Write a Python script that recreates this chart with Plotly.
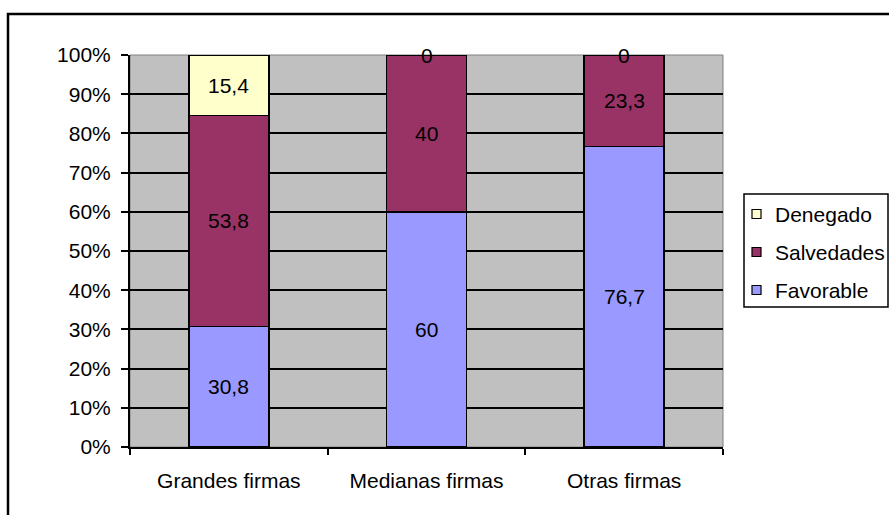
import plotly.graph_objects as go

categories = ["Grandes firmas", "Medianas firmas", "Otras firmas"]
favorable = [30.8, 60, 76.7]
salvedades = [53.8, 40, 23.3]
denegado = [15.4, 0, 0]
series_names = ["Favorable", "Salvedades", "Denegado"]
series_colors = ["#9999FF", "#993366", "#FFFFCC"]
y_ticks = [0, 10, 20, 30, 40, 50, 60, 70, 80, 90, 100]
y_tick_labels = ["0%", "10%", "20%", "30%", "40%", "50%", "60%", "70%", "80%", "90%", "100%"]

FONT = "Liberation Sans, Arial, sans-serif"
FS = 21
W, H = 889, 515
L, R, T, B = 130, 723, 55, 447


def px_x(p):
    return (p - L) / (R - L)


def px_y(p):
    return (B - p) / (B - T)


fig = go.Figure()
series = [favorable, salvedades, denegado]
for name, vals, col in zip(series_names, series, series_colors):
    fig.add_trace(go.Bar(
        x=categories, y=vals, name=name,
        marker=dict(color=col, line=dict(color="black", width=1.5)),
        width=0.405, showlegend=False,
    ))

# data labels
annotations = []
for ci, cat in enumerate(categories):
    base = 0
    for vals in series:
        v = vals[ci]
        label = ("%g" % v).replace(".", ",")
        annotations.append(dict(x=cat, y=base + v / 2, text=label, showarrow=False,
                                xref="x", yref="y",
                                font=dict(size=FS, color="black", family=FONT)))
        base += v

shapes = [
    dict(type="rect", xref="paper", yref="paper", x0=0, x1=1, y0=0, y1=1,
         line=dict(color="#808080", width=1), fillcolor="rgba(0,0,0,0)", layer="below"),
    dict(type="rect", xref="paper", yref="paper", x0=px_x(8), x1=px_x(900), y0=px_y(530), y1=px_y(14),
         line=dict(color="black", width=2.5), fillcolor="rgba(0,0,0,0)"),
    # legend box
    dict(type="rect", xref="paper", yref="paper", x0=px_x(744), x1=px_x(888), y0=px_y(307), y1=px_y(194),
         line=dict(color="black", width=1.5), fillcolor="white"),
]

# legend entries (top to bottom: Denegado, Salvedades, Favorable)
legend_rows = [214, 252, 290]
for row_y, name, col in zip(legend_rows, series_names[::-1], series_colors[::-1]):
    shapes.append(dict(type="rect", xref="paper", yref="paper",
                       x0=px_x(752), x1=px_x(761), y0=px_y(row_y + 4.5), y1=px_y(row_y - 4.5),
                       line=dict(color="black", width=1.2), fillcolor=col))
    annotations.append(dict(x=px_x(773), y=px_y(row_y), xref="paper", yref="paper",
                            text=name, showarrow=False, xanchor="left", yanchor="middle",
                            font=dict(size=FS, color="black", family=FONT)))

fig.update_layout(
    width=W, height=H,
    margin=dict(l=L, r=W - R, t=T, b=H - B),
    paper_bgcolor="white", plot_bgcolor="#C0C0C0",
    barmode="stack", bargap=0.595,
    font=dict(family=FONT, size=FS, color="black"),
    annotations=annotations, shapes=shapes,
    showlegend=False,
    xaxis=dict(showline=True, linecolor="black", linewidth=2, ticks="outside",
               tickson="boundaries", ticklen=6, tickcolor="black", tickwidth=1.5,
               showgrid=False, tickfont=dict(size=FS), ticklabelstandoff=14),
    yaxis=dict(range=[0, 100], tickmode="array", tickvals=y_ticks, ticktext=y_tick_labels,
               showline=True, linecolor="black", linewidth=2, ticks="outside", ticklen=7,
               tickcolor="black", tickwidth=1.5, showgrid=True, gridcolor="black",
               gridwidth=1.5, zeroline=False, tickfont=dict(size=FS), ticklabelstandoff=6),
)

fig.write_html("out.html")
